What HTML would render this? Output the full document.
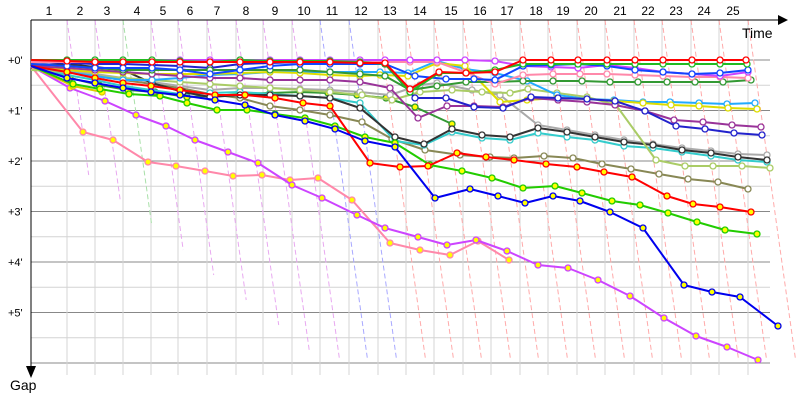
<!DOCTYPE html>
<html><head><meta charset="utf-8"><style>
html,body{margin:0;padding:0;background:#fff;width:800px;height:400px;overflow:hidden}
svg{display:block;font-family:"Liberation Sans",sans-serif}
</style></head><body>
<svg id="s" width="800" height="400" xmlns="http://www.w3.org/2000/svg"></svg>
<script>
var s=document.getElementById('s'),h='';
var X=[31,67,95,123,151,178,207,236,263,292,320,349,378,406,434,463,491,520,548,577,605,634,662,691,719,748];
// grid
for(var i=0;i<7;i++){var y=60+i*50.5;h+='<line x1="31" x2="770" y1="'+y+'" y2="'+y+'" stroke="#888" stroke-width="1"/>';
 if(i<6)h+='<line x1="31" x2="770" y1="'+(y+25.25)+'" y2="'+(y+25.25)+'" stroke="#d4d4d4" stroke-width="1"/>';
 if(i<6)h+='<text x="8" y="'+(y+4)+'" font-size="11">+'+i+'\'</text>';}
for(var k=1;k<26;k++)h+='<line x1="'+X[k]+'" x2="'+X[k]+'" y1="20" y2="375" stroke="#d4d4d4"/>';
// dashed
for(var k=1;k<26;k++){var c=k<10?'#e8a8f0':(k<12?'#a8a8ff':(k==3?'#a8e0a8':'#ffaaaa'));if(k==3)c='#a8e0a8';
 var ye=k<10?Math.min(360,150+k*25):360;h+='<line x1="'+X[k]+'" y1="20" x2="'+(X[k]+0.14*(ye-20))+'" y2="'+ye+'" stroke="'+c+'" stroke-dasharray="5,3" stroke-width="1"/>';}
// axes
h+='<line x1="31" y1="20" x2="778" y2="20" stroke="#000"/><polygon points="778,15 788,20 778,25" fill="#000"/>';
h+='<line x1="31" y1="20" x2="31" y2="368" stroke="#000"/><polygon points="26,366 31,378 36,366" fill="#000"/>';
h+='<text x="742" y="38" font-size="14">Time</text><text x="10" y="390" font-size="14">Gap</text>';
var L=[49,80,107,137,163,190,217,246,275,304,332,361,390,420,451,480,507,536,563,591,620,648,676,704,733];
for(var k=0;k<25;k++)h+='<text x="'+L[k]+'" y="15" font-size="12" text-anchor="middle">'+(k+1)+'</text>';
var S=[
['#ff88aa','#ff0',[[31,66],[83,132],[113,140],[148,162],[176,166],[205,171],[233,176],[262,175],[290,180],[318,178],[352,200],[390,243],[420,250],[450,255],[478,241],[509,260]]],
['#cc44ff','#ff0',[[31,66],[70,88],[105,101],[136,115],[166,126],[195,140],[228,152],[258,163],[292,185],[322,198],[357,215],[385,228],[418,237],[447,245],[476,240],[507,251],[538,265],[568,268],[598,280],[630,296],[664,318],[696,336],[727,347],[758,360]]],
['#ddcc00','#ff0',[[31,66],[73,86],[102,92]]],
['#339933','#ff0',[[31,66],[70,78],[99,85],[128,90],[155,92],[187,97],[213,96],[240,94],[270,93],[300,92],[328,93],[357,95],[386,98],[415,107],[452,124]]],
['#888855','#fff',[[31,66],[67,72],[95,76],[123,80],[152,84],[180,88],[210,94],[240,98],[270,106],[300,110],[330,115],[362,122],[392,139],[425,150],[460,155],[490,157],[514,158],[544,156],[573,158],[602,164],[631,169],[659,174],[688,179],[718,182],[748,189]]],
['#aaaaaa','#fff',[[31,66],[67,70],[95,74],[123,78],[152,82],[180,86],[210,90],[240,88],[270,88],[300,89],[330,90],[360,92],[390,95],[420,85],[437,83],[472,90],[500,95],[538,125],[567,130],[595,135],[624,140],[653,144],[682,148],[711,151],[738,154],[767,155]]],
['#33cccc','#fff',[[31,66],[67,75],[95,80],[123,86],[151,90],[180,94],[210,93],[240,92],[270,94],[300,96],[330,98],[360,103],[395,141],[424,145],[452,132],[482,138],[510,140],[538,133],[567,137],[595,140],[624,146],[653,148],[682,152],[711,156],[738,160],[767,162]]],
['#333333','#fff',[[31,66],[67,64],[95,67],[123,70],[152,83],[183,92],[210,97],[240,95],[270,95],[300,96],[330,98],[360,108],[395,137],[424,144],[452,129],[482,135],[510,137],[538,128],[567,132],[595,137],[624,142],[653,145],[682,150],[711,153],[738,157],[767,160]]],
['#aacc66','#fff',[[31,70],[67,72],[95,76],[123,78],[152,80],[180,82],[210,84],[240,86],[270,88],[300,90],[330,92],[362,95],[392,100],[420,92],[452,90],[482,92],[510,93],[528,89],[557,93],[587,97],[616,105],[656,160],[685,166],[713,166],[742,166],[770,168]]],
['#22aaff','#fff',[[31,66],[67,72],[95,76],[123,80],[152,80],[180,78],[210,75],[240,74],[270,72],[300,72],[330,72],[360,72],[380,72],[408,73],[437,61],[465,69],[495,73],[527,81],[557,95],[587,99],[614,100],[643,102],[670,102],[699,103],[727,104],[755,103]]],
['#dddd00','#fff',[[31,66],[67,70],[95,72],[123,73],[152,74],[180,74],[210,74],[240,73],[270,72],[300,73],[330,75],[360,76],[380,75],[408,76],[437,63],[465,66],[500,102],[527,100],[557,98],[587,99],[614,101],[643,103],[671,105],[699,106],[728,108],[757,109]]],
['#993399','#fff',[[31,66],[67,68],[95,70],[123,72],[152,74],[180,76],[210,78],[240,78],[270,80],[300,80],[330,80],[360,82],[390,88],[418,118],[447,106],[474,106],[503,107],[531,98],[558,100],[587,102],[615,105],[645,111],[674,120],[703,122],[732,125],[761,127]]],
['#2222cc','#fff',[[31,62],[67,63],[95,64],[123,64],[152,65],[180,66],[210,68],[240,64],[270,63],[300,62],[330,62],[360,62],[385,64],[415,98],[446,98],[474,107],[503,108],[531,97],[558,98],[587,99],[615,101],[645,111],[676,126],[705,129],[734,133],[762,135]]],
['#339933','#fff',[[31,64],[67,66],[95,68],[123,70],[152,70],[180,70],[210,70],[240,70],[270,70],[300,70],[330,72],[360,74],[385,76],[410,90],[437,86],[466,82],[495,82],[523,81],[553,81],[582,81],[610,82],[638,82],[667,82],[695,82],[723,82],[751,80]]],
['#ff88aa','#fff',[[31,62],[67,62],[95,62],[123,62],[152,62],[180,62],[210,62],[240,62],[270,62],[300,62],[330,62],[360,62],[385,62],[410,62],[437,62],[465,72],[495,84],[523,75],[553,74],[580,74],[607,74],[635,75],[663,76],[692,77],[720,77],[748,78]]],
['#cc44ff','#fff',[[31,60],[67,60],[95,60],[123,60],[152,60],[180,60],[210,60],[240,60],[270,60],[300,60],[330,60],[360,60],[385,60],[410,60],[437,60],[465,60],[495,61],[523,66],[551,67],[578,68],[607,65],[635,68],[663,72],[692,74],[720,76],[748,72]]],
['#1144ff','#fff',[[31,64],[67,66],[95,68],[123,68],[152,68],[180,70],[210,74],[240,70],[270,66],[300,64],[330,64],[360,64],[385,64],[415,76],[446,79],[474,79],[495,80],[523,66],[551,65],[578,64],[607,66],[635,70],[663,72],[692,74],[720,73],[748,70]]],
['#22bb22','#fff',[[31,60],[67,60],[95,60],[123,60],[152,60],[180,61],[210,62],[240,60],[270,61],[300,61],[330,61],[360,62],[385,64],[410,92],[439,73],[466,73],[495,70],[523,64],[551,64],[578,64],[607,64],[635,64],[663,64],[692,64],[720,64],[747,64]]],
['#ff0000','#fff',[[31,60],[67,61],[95,62],[123,62],[152,62],[180,62],[210,62],[240,62],[270,62],[300,62],[330,62],[360,63],[385,63],[410,89],[439,72],[466,73],[495,72],[523,60],[551,60],[578,60],[607,60],[635,60],[663,60],[692,60],[720,60],[746,60]]],
['#22cc00','#ff0',[[31,66],[73,84],[100,89],[129,94],[160,96],[187,103],[217,110],[247,110],[275,114],[305,118],[335,126],[365,137],[395,143],[430,165],[462,171],[492,178],[523,188],[555,186],[582,193],[612,201],[640,205],[668,213],[697,222],[725,230],[757,234]]],
['#ff0000','#ff0',[[31,66],[67,72],[95,78],[123,83],[151,86],[180,90],[215,95],[245,95],[275,98],[303,103],[330,106],[370,163],[400,167],[428,166],[457,153],[486,157],[514,160],[546,164],[577,167],[604,172],[632,177],[667,196],[693,204],[720,207],[751,212]]],
['#0000ee','#ff0',[[31,66],[67,78],[95,83],[123,88],[151,92],[180,95],[215,100],[245,105],[275,115],[305,121],[335,129],[365,141],[395,147],[435,198],[470,189],[498,196],[525,203],[553,196],[580,201],[610,212],[643,228],[684,285],[712,292],[740,297],[778,326]]]
];
S.forEach(function(a){h+='<polyline fill="none" stroke="'+a[0]+'" stroke-width="2" stroke-linejoin="round" points="'+a[2].map(function(p){return p.join(',')}).join(' ')+'"/>';
 a[2].forEach(function(p,i){if(i>0)h+='<circle cx="'+p[0]+'" cy="'+p[1]+'" r="3" fill="'+a[1]+'" stroke="'+a[0]+'" stroke-width="1.3"/>';});});
s.innerHTML=h;
</script>
</body></html>
